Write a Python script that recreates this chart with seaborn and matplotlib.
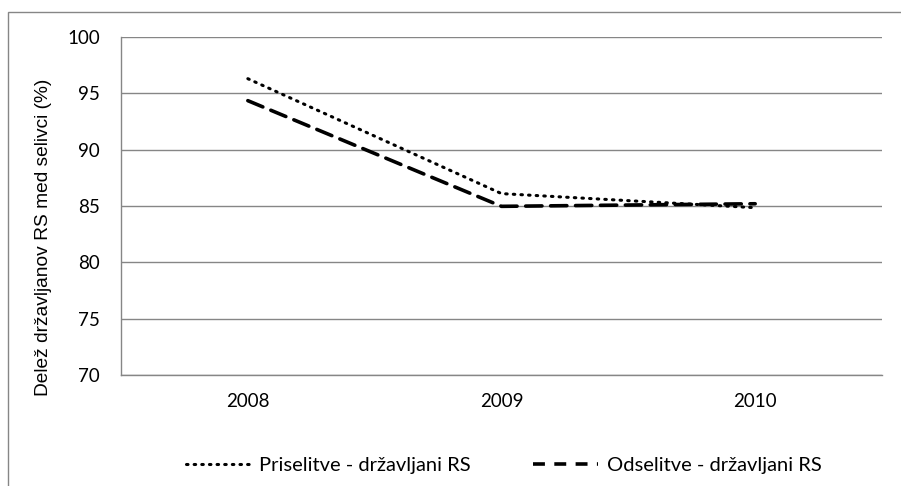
import pandas as pd
import matplotlib.pyplot as plt
import matplotlib.patches as mpatches
import seaborn as sns

# Values
years = ["2008", "2009", "2010"]
priselitve = [96.3, 86.1, 84.85]
odselitve = [94.35, 84.97, 85.2]
series_names = ["Priselitve - državljani RS", "Odselitve - državljani RS"]

data = pd.DataFrame({
    "leto": years * 2,
    "delez": priselitve + odselitve,
    "serija": [series_names[0]] * 3 + [series_names[1]] * 3,
})

sns.set_style("white")
plt.rcParams["font.family"] = ["Lato", "DejaVu Sans"]
plt.rcParams["text.color"] = "black"
plt.rcParams["xtick.color"] = "black"
plt.rcParams["ytick.color"] = "black"
plt.rcParams["axes.labelcolor"] = "black"

fig = plt.figure(figsize=(9.01, 4.86), dpi=100)
ax = fig.add_axes([121 / 901, 1 - 375 / 486, 761 / 901, 338 / 486])

dot = (0.5, 2.0)
dash = (4.5, 2.4)
sns.lineplot(data=data, x="leto", y="delez", hue="serija", style="serija",
             palette=["black", "black"], dashes=[dot, dash],
             sort=False, ax=ax, legend=False)
for line, lw in zip(ax.lines, [2.2, 2.6]):
    line.set_linewidth(lw)
    line.set_dash_capstyle("round")

ax.set_xlim(-0.5, 2.5)
ax.set_ylim(70, 100)
ax.set_yticks(range(70, 101, 5))
ax.yaxis.grid(True, color="#868686", linewidth=1)
ax.set_axisbelow(True)

for side in ["top", "right"]:
    ax.spines[side].set_visible(False)
for side in ["left", "bottom"]:
    ax.spines[side].set_color("#868686")
    ax.spines[side].set_linewidth(1)

ax.set_xticks([0, 1, 2])
ax.set_xticklabels(years)
ax.set_xticks([-0.5, 0.5, 1.5, 2.5], minor=True)
ax.tick_params(axis="x", which="major", length=0, pad=13, labelsize=13.5)
ax.tick_params(axis="x", which="minor", length=5, color="#868686", direction="out")
ax.tick_params(axis="y", length=5, color="#868686", direction="out", labelsize=13.5, pad=10)
ax.set_xlabel("")
ax.set_ylabel("Delež državljanov RS med selivci (%)", fontsize=13.8,
              family=["Liberation Sans", "DejaVu Sans"])
ax.yaxis.set_label_coords(-0.091, 0.408)

handles = [
    plt.Line2D([], [], color="black", linewidth=2.2, dashes=dot, dash_capstyle="round"),
    plt.Line2D([], [], color="black", linewidth=2.6, dashes=(3.3, 2.6)),
]
fig.legend(handles, series_names, loc="center", bbox_to_anchor=(0.559, 1 - 465 / 486),
           ncol=2, frameon=False, fontsize=14.5, handlelength=3.2, columnspacing=3.1,
           handletextpad=0.45)

fig.patches.append(mpatches.Rectangle((8 / 901, -0.05), 1.1, 1.05 - 12 / 486,
                                      transform=fig.transFigure, fill=False,
                                      edgecolor="#868686", linewidth=1))

fig.savefig("out.png", dpi=100)
